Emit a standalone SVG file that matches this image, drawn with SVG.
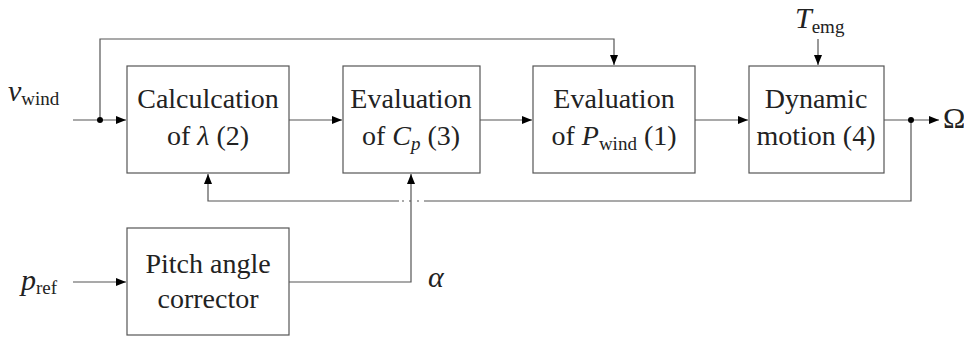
<svg xmlns="http://www.w3.org/2000/svg" width="964" height="338" viewBox="0 0 964 338">
<defs>
<marker id="ah" viewBox="0 0 10 8" refX="10" refY="4" markerWidth="10" markerHeight="8" markerUnits="userSpaceOnUse" orient="auto">
<path d="M0,0 L10,4 L0,8 z" fill="#000"/>
</marker>
</defs>
<style>
.box{fill:#fff;stroke:#555;stroke-width:1.2}
.ln{fill:none;stroke:#555;stroke-width:1.2}
.t{font-size:28px;fill:#222;text-anchor:middle}
.m{font-size:30px;fill:#222}
.i{font-style:italic}
.s{font-size:19px}
</style>
<rect width="964" height="338" fill="#fff"/>
<g id="connectors">
<path class="ln" d="M73,120 H126" marker-end="url(#ah)"/>
<path class="ln" d="M100,120 V39 H614 V65" marker-end="url(#ah)"/>
<path class="ln" d="M289,120 H342" marker-end="url(#ah)"/>
<path class="ln" d="M480,120 H532" marker-end="url(#ah)"/>
<path class="ln" d="M695,120 H748" marker-end="url(#ah)"/>
<path class="ln" d="M884,120 H939" marker-end="url(#ah)"/>
<path class="ln" d="M911,120 V201 H424"/>
<path class="ln" d="M399,201 H208 V174" marker-end="url(#ah)"/>
<path class="ln" d="M402,201 H404 M409,201 H411 M417,201 H419"/>
<path class="ln" d="M73,282 H126" marker-end="url(#ah)"/>
<path class="ln" d="M289,282 H411 V174" marker-end="url(#ah)"/>
<path class="ln" d="M818,39 V65" marker-end="url(#ah)"/>
<circle cx="100" cy="120" r="3" fill="#000"/>
<circle cx="911" cy="120" r="3" fill="#000"/>
</g>
<g font-family="'Liberation Serif', serif">
<g id="calc_lambda">
<rect class="box" x="127" y="66" width="162" height="107"/>
<text class="t" x="208" y="108">Calculcation</text>
<text class="t" x="208" y="145">of <tspan class="i">λ</tspan> (2)</text>
</g>
<g id="eval_cp">
<rect class="box" x="343" y="66" width="137" height="107"/>
<text class="t" x="411" y="108">Evaluation</text>
<text class="t" x="411" y="145">of <tspan class="i">C</tspan><tspan class="i s" dy="5">p</tspan><tspan dy="-5"> (3)</tspan></text>
</g>
<g id="eval_pwind">
<rect class="box" x="533" y="66" width="162" height="107"/>
<text class="t" x="614" y="108">Evaluation</text>
<text class="t" x="614" y="145">of <tspan class="i">P</tspan><tspan class="s" dy="5">wind</tspan><tspan dy="-5"> (1)</tspan></text>
</g>
<g id="dynamic_motion">
<rect class="box" x="749" y="66" width="135" height="107"/>
<text class="t" x="816" y="108">Dynamic</text>
<text class="t" x="816" y="145">motion (4)</text>
</g>
<g id="pitch_corrector">
<rect class="box" x="127" y="228" width="162" height="107"/>
<text class="t" x="208" y="273">Pitch angle</text>
<text class="t" x="208" y="308">corrector</text>
</g>
<g id="labels">
<text class="m" x="8" y="101"><tspan class="i">v</tspan><tspan class="s" dy="4">wind</tspan></text>
<text class="m" x="21" y="290"><tspan class="i">p</tspan><tspan class="s" dy="4">ref</tspan></text>
<text class="m" x="943" y="128">Ω</text>
<text class="m i" x="428" y="287">α</text>
<text class="m" x="795" y="28"><tspan class="i">T</tspan><tspan class="s" dy="5">emg</tspan></text>
</g>
</g>
</svg>
